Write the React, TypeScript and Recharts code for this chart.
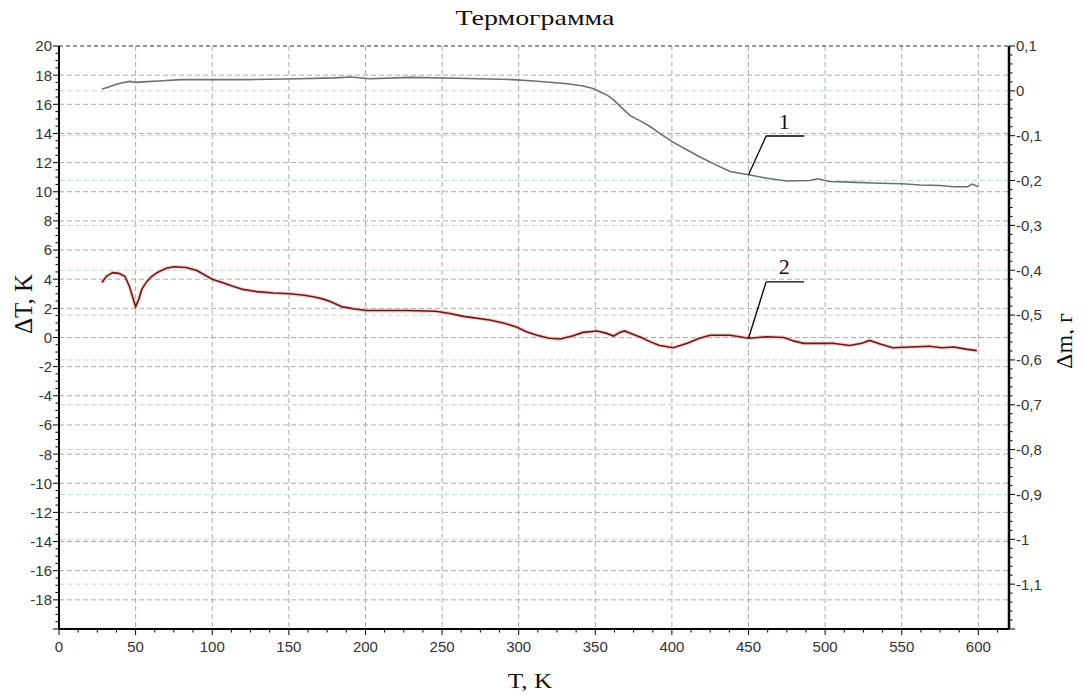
import React from 'react';
import { LineChart, Line, XAxis, YAxis, CartesianGrid, ReferenceLine, ReferenceDot } from 'recharts';

// Curve 1: mass change Δm, g (right axis)
const massT = [28, 32, 36, 40, 46, 50, 55, 65, 80, 100, 120, 157, 180, 190, 203, 229, 260, 296, 310, 320, 332, 342, 348, 353, 358, 362, 367, 373, 380, 386, 393, 401, 410, 418, 428, 438, 450, 462, 475, 490, 495, 503, 520, 536, 550, 562, 575, 584, 593, 596, 600];
const massValues = [0.004, 0.008, 0.013, 0.017, 0.021, 0.019, 0.02, 0.022, 0.025, 0.025, 0.025, 0.027, 0.029, 0.031, 0.027, 0.03, 0.028, 0.025, 0.022, 0.019, 0.016, 0.011, 0.006, -0.002, -0.01, -0.02, -0.037, -0.056, -0.068, -0.08, -0.097, -0.115, -0.132, -0.147, -0.164, -0.18, -0.187, -0.195, -0.201, -0.2, -0.196, -0.202, -0.204, -0.206, -0.207, -0.21, -0.211, -0.214, -0.214, -0.208, -0.214];

// Curve 2: ΔT, K (left axis)
const dtaT = [28, 31, 35, 39, 43, 46, 48, 50, 52, 54, 57, 60, 64, 70, 75, 83, 90, 100, 107, 114, 120, 129, 140, 151, 160, 166, 172, 177, 185, 193, 201, 227, 246, 255, 264, 281, 290, 299, 305, 312, 320, 327, 335, 342, 351, 357, 362, 366, 369, 375, 380, 386, 392, 401, 410, 418, 425, 438, 450, 456, 462, 473, 480, 486, 505, 516, 524, 529, 536, 544, 556, 568, 576, 584, 592, 599];
const dtaValues = [3.77, 4.2, 4.45, 4.4, 4.2, 3.5, 2.8, 2.1, 2.6, 3.3, 3.8, 4.15, 4.45, 4.75, 4.85, 4.8, 4.6, 4.0, 3.75, 3.5, 3.3, 3.15, 3.05, 3.0, 2.9, 2.8, 2.65, 2.47, 2.1, 1.95, 1.85, 1.85, 1.8, 1.65, 1.45, 1.2, 1.0, 0.7, 0.4, 0.15, -0.05, -0.1, 0.1, 0.35, 0.45, 0.3, 0.1, 0.35, 0.45, 0.2, 0.0, -0.3, -0.55, -0.7, -0.4, -0.05, 0.15, 0.15, -0.05, 0.0, 0.05, 0.0, -0.25, -0.4, -0.4, -0.55, -0.4, -0.2, -0.45, -0.7, -0.65, -0.6, -0.7, -0.65, -0.8, -0.9];

// Tick labels / grid values
const xMajorTicks = [0, 50, 100, 150, 200, 250, 300, 350, 400, 450, 500, 550, 600];
const leftMajorTicks = [20, 18, 16, 14, 12, 10, 8, 6, 4, 2, 0, -2, -4, -6, -8, -10, -12, -14, -16, -18];
const rightMajorTicks = [0.1, 0, -0.1, -0.2, -0.3, -0.4, -0.5, -0.6, -0.7, -0.8, -0.9, -1, -1.1];

// Leader annotations (data coordinates)
const label1Pts = [{ x: 450, y: -0.187 }, { x: 461.5, y: -0.1007 }, { x: 486.3, y: -0.1007 }];
const label1Pos = { x: 473.3, y: -0.067, text: '1' };
const label2Pts = [{ x: 450, y: -0.05 }, { x: 461.5, y: 3.81 }, { x: 486.3, y: 3.81 }];
const label2Pos = { x: 473.3, y: 4.91, text: '2' };

const massData = massT.map((t, i) => ({ t, m: massValues[i] }));
const dtaData = dtaT.map((t, i) => ({ t, d: dtaValues[i] }));

const xTicksAll: number[] = [];
for (let i = 0; i <= 49; i++) xTicksAll.push(i * 12.5);
const leftTicksAll: number[] = [];
for (let i = -40; i <= 40; i++) leftTicksAll.push(i / 2);
const rightTicksAll: number[] = [];
for (let i = -60; i <= 5; i++) rightTicksAll.push(i / 50);

const isIn = (arr: number[], v: number) => arr.some((a) => Math.abs(a - v) < 1e-6);
const fmtComma = (v: number) => String(Number(v.toFixed(2))).replace('.', ',');

const tickFont = { fontFamily: '"Liberation Sans", Arial, sans-serif', fontSize: 15, fill: '#333' };
const serif = '"Liberation Serif", "Times New Roman", serif';

const LeftTick = (props: any) => {
  const { x, y, payload } = props;
  const v = payload.value;
  const major = isIn(leftMajorTicks, v) || Math.abs(v + 20) < 1e-6;
  return (
    <g>
      <line x1={x} x2={x - (major ? 6 : 3.5)} y1={y} y2={y} stroke="#000" strokeWidth={1} />
      {isIn(leftMajorTicks, v) && (
        <text x={x - 7} y={y} dy="0.36em" textAnchor="end" {...tickFont}>{String(v)}</text>
      )}
    </g>
  );
};

const RightTick = (props: any) => {
  const { x, y, payload } = props;
  const v = payload.value;
  const major = isIn(rightMajorTicks, v) || Math.abs(v + 1.2) < 1e-6;
  return (
    <g>
      <line x1={x} x2={x + (major ? 6 : 3.5)} y1={y} y2={y} stroke="#000" strokeWidth={1} />
      {isIn(rightMajorTicks, v) && (
        <text x={x + 7} y={y} dy="0.36em" textAnchor="start" {...tickFont}>{fmtComma(v)}</text>
      )}
    </g>
  );
};

const BottomTick = (props: any) => {
  const { x, y, payload } = props;
  const v = payload.value;
  const major = isIn(xMajorTicks, v);
  return (
    <g>
      <line x1={x} x2={x} y1={y} y2={y + (major ? 6 : 3.5)} stroke="#000" strokeWidth={1} />
      {major && (
        <text x={x} y={y + 18} dy="0.36em" textAnchor="middle" {...tickFont}>{String(v)}</text>
      )}
    </g>
  );
};

const gridLeftValues = leftMajorTicks.filter((v) => v < 20);
const gridRightValues = rightMajorTicks.filter((v) => v < 0.1);
const gridXValues = xMajorTicks.filter((v) => v > 0);

export default function App() {
  return (
    <div style={{ position: 'relative', width: 1074, height: 683 }}>
      <LineChart
        width={1074}
        height={683}
        margin={{ top: 38, right: 0, bottom: 0, left: 0 }}
      >
        <CartesianGrid
          yAxisId="left"
          xAxisId="x"
          horizontalValues={gridLeftValues}
          verticalValues={gridXValues}
          stroke="#acacac"
          strokeDasharray="5 3"
        />
        {gridRightValues.map((v) => (
          <ReferenceLine key={'rg' + v} yAxisId="right" xAxisId="x" y={v} stroke="#c2dada" strokeDasharray="5 3" />
        ))}
        <ReferenceLine yAxisId="left" xAxisId="x" y={20} stroke="#333" strokeDasharray="4 3" />
        <XAxis
          xAxisId="x"
          type="number"
          dataKey="t"
          domain={[0, 620]}
          ticks={xTicksAll}
          interval={0}
          tickSize={0}
          tickMargin={0}
          tick={<BottomTick />}
          axisLine={{ stroke: '#000', strokeWidth: 2 }}
          tickLine={false}
          height={62}
          allowDataOverflow
        />
        <YAxis
          yAxisId="left"
          orientation="left"
          type="number"
          domain={[-20, 20]}
          ticks={leftTicksAll}
          interval={0}
          tickSize={0}
          tickMargin={0}
          tick={<LeftTick />}
          axisLine={{ stroke: '#000', strokeWidth: 2 }}
          tickLine={false}
          width={51}
          allowDataOverflow
        />
        <YAxis
          yAxisId="right"
          orientation="right"
          type="number"
          domain={[-1.2, 0.1]}
          ticks={rightTicksAll}
          interval={0}
          tickSize={0}
          tickMargin={0}
          tick={<RightTick />}
          axisLine={{ stroke: '#000', strokeWidth: 2.5 }}
          tickLine={false}
          width={73}
          allowDataOverflow
        />
        <Line
          xAxisId="x"
          yAxisId="right"
          data={massData}
          dataKey="m"
          type="linear"
          stroke="#6f6f6f"
          strokeWidth={1.6}
          dot={false}
          isAnimationActive={false}
        />
        <Line
          xAxisId="x"
          yAxisId="left"
          data={dtaData}
          dataKey="d"
          type="linear"
          stroke="#f2b8b8"
          strokeOpacity={0.6}
          strokeWidth={4}
          dot={false}
          isAnimationActive={false}
        />
        <Line
          xAxisId="x"
          yAxisId="left"
          data={dtaData}
          dataKey="d"
          type="linear"
          stroke="#6a1818"
          strokeWidth={1.6}
          dot={false}
          isAnimationActive={false}
        />
        <ReferenceLine xAxisId="x" yAxisId="right" segment={[label1Pts[0], label1Pts[1]]} stroke="#000" strokeWidth={1.3} />
        <ReferenceLine xAxisId="x" yAxisId="right" segment={[label1Pts[1], label1Pts[2]]} stroke="#000" strokeWidth={1.3} />
        <ReferenceLine xAxisId="x" yAxisId="left" segment={[label2Pts[0], label2Pts[1]]} stroke="#000" strokeWidth={1.3} />
        <ReferenceLine xAxisId="x" yAxisId="left" segment={[label2Pts[1], label2Pts[2]]} stroke="#000" strokeWidth={1.3} />
        <ReferenceDot
          xAxisId="x"
          yAxisId="right"
          x={label1Pos.x}
          y={label1Pos.y}
          r={0}
          stroke="none"
          label={{ value: label1Pos.text, position: 'center', fontFamily: serif, fontSize: 22, fill: '#111' }}
        />
        <ReferenceDot
          xAxisId="x"
          yAxisId="left"
          x={label2Pos.x}
          y={label2Pos.y}
          r={0}
          stroke="none"
          label={{ value: label2Pos.text, position: 'center', fontFamily: serif, fontSize: 22, fill: '#111' }}
        />
      </LineChart>
      <div style={{ position: 'absolute', left: 527, top: 11, transform: 'translate(-50%, -50%) scaleX(1.33)', fontFamily: serif, fontSize: 21, color: '#111', whiteSpace: 'nowrap', lineHeight: 1.2 }}>
        Термограмма
      </div>
      <div style={{ position: 'absolute', left: 522, top: 673, transform: 'translate(-50%, -50%) scaleX(1.15)', fontFamily: serif, fontSize: 22, color: '#111', whiteSpace: 'nowrap', lineHeight: 1.2 }}>
        T, K
      </div>
      <div style={{ position: 'absolute', left: 16, top: 296, transform: 'translate(-50%, -50%) rotate(-90deg)', fontFamily: serif, fontSize: 25, color: '#111', whiteSpace: 'nowrap', lineHeight: 1.2 }}>
        ΔT, K
      </div>
      <div style={{ position: 'absolute', left: 1056, top: 333, transform: 'translate(-50%, -50%) rotate(-90deg)', fontFamily: serif, fontSize: 24, color: '#111', whiteSpace: 'nowrap', lineHeight: 1.2 }}>
        Δm, г
      </div>
    </div>
  );
}
